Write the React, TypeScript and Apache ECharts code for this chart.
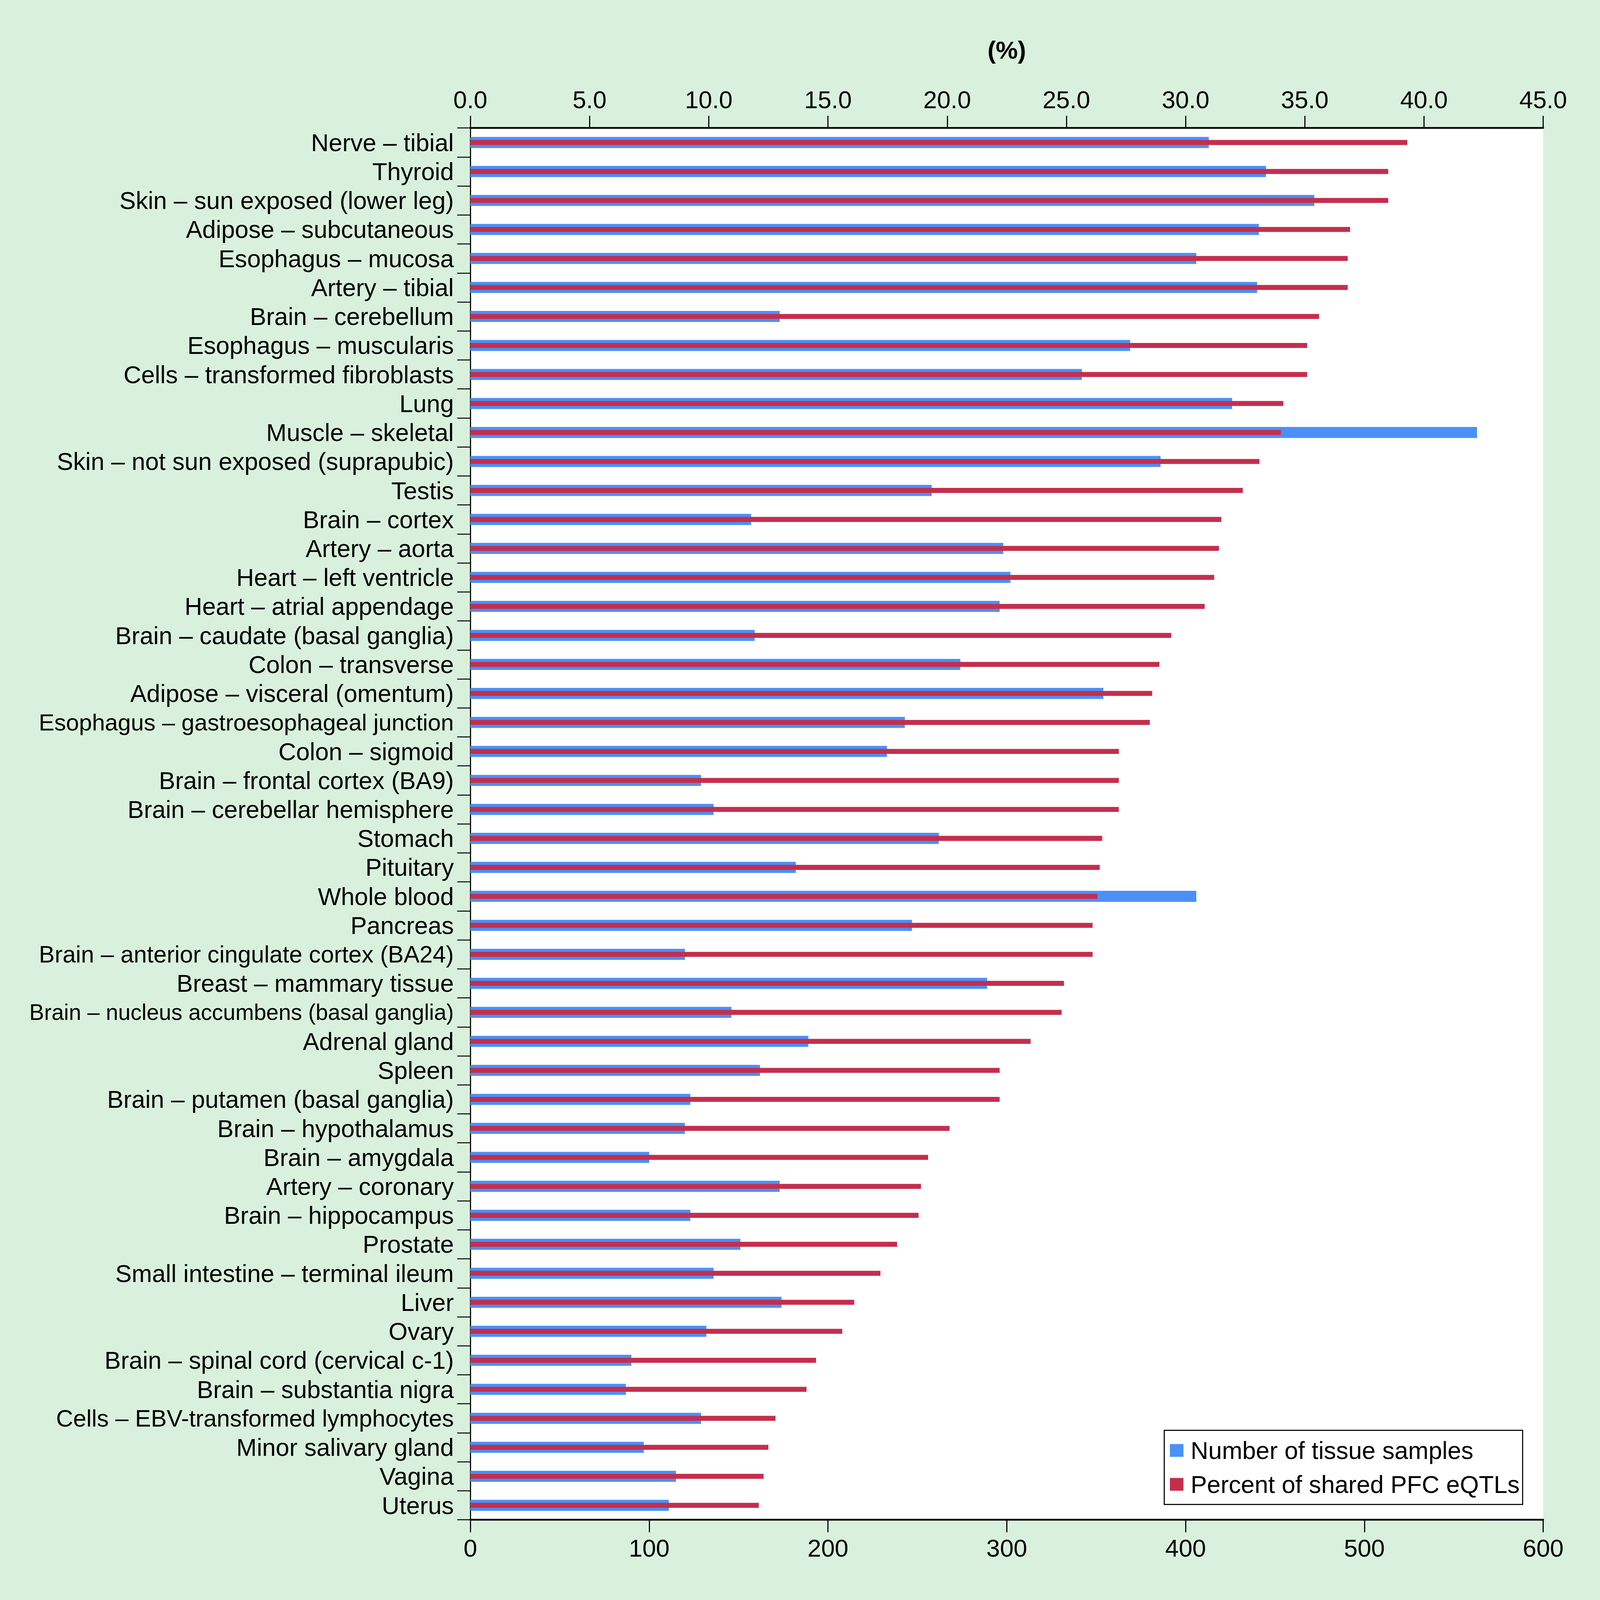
import React, { useEffect, useRef } from "react";
import * as echarts from "echarts";

const categories = [
  "Nerve – tibial",
  "Thyroid",
  "Skin – sun exposed (lower leg)",
  "Adipose – subcutaneous",
  "Esophagus – mucosa",
  "Artery – tibial",
  "Brain – cerebellum",
  "Esophagus – muscularis",
  "Cells – transformed fibroblasts",
  "Lung",
  "Muscle – skeletal",
  "Skin – not sun exposed (suprapubic)",
  "Testis",
  "Brain – cortex",
  "Artery – aorta",
  "Heart – left ventricle",
  "Heart – atrial appendage",
  "Brain – caudate (basal ganglia)",
  "Colon – transverse",
  "Adipose – visceral (omentum)",
  "Esophagus – gastroesophageal junction",
  "Colon – sigmoid",
  "Brain – frontal cortex (BA9)",
  "Brain – cerebellar hemisphere",
  "Stomach",
  "Pituitary",
  "Whole blood",
  "Pancreas",
  "Brain – anterior cingulate cortex (BA24)",
  "Breast – mammary tissue",
  "Brain – nucleus accumbens (basal ganglia)",
  "Adrenal gland",
  "Spleen",
  "Brain – putamen (basal ganglia)",
  "Brain – hypothalamus",
  "Brain – amygdala",
  "Artery – coronary",
  "Brain – hippocampus",
  "Prostate",
  "Small intestine – terminal ileum",
  "Liver",
  "Ovary",
  "Brain – spinal cord (cervical c-1)",
  "Brain – substantia nigra",
  "Cells – EBV-transformed lymphocytes",
  "Minor salivary gland",
  "Vagina",
  "Uterus",
];

// Number of tissue samples (bottom axis)
const sampleCounts = [
  413, 445, 472, 441, 406, 440, 173, 369, 342, 426, 563, 386,
  258, 157, 298, 302, 296, 159, 274, 354, 243, 233, 129, 136,
  262, 182, 406, 247, 120, 289, 146, 189, 162, 123, 120, 100,
  173, 123, 151, 136, 174, 132, 90, 87, 129, 97, 115, 111,
];

// Percent of shared PFC eQTLs (top axis)
const sharedPercent = [
  39.3, 38.5, 38.5, 36.9, 36.8, 36.8, 35.6, 35.1, 35.1, 34.1, 34.0, 33.1,
  32.4, 31.5, 31.4, 31.2, 30.8, 29.4, 28.9, 28.6, 28.5, 27.2, 27.2, 27.2,
  26.5, 26.4, 26.3, 26.1, 26.1, 24.9, 24.8, 23.5, 22.2, 22.2, 20.1, 19.2,
  18.9, 18.8, 17.9, 17.2, 16.1, 15.6, 14.5, 14.1, 12.8, 12.5, 12.3, 12.1,
];

const seriesNames = ["Number of tissue samples", "Percent of shared PFC eQTLs"];
const percentAxisLabel = "(%)";

const smallerLabels: Record<string, number> = {
  "Esophagus – gastroesophageal junction": 62,
  "Brain – anterior cingulate cortex (BA24)": 63,
  "Brain – nucleus accumbens (basal ganglia)": 59,
  "Cells – EBV-transformed lymphocytes": 63,
};

const FONT = '"Liberation Sans", Arial, Helvetica, sans-serif';
const BLUE = "#4a90f7";
const RED = "#c42e4e";
const BG = "#d9f1dc";

const REF_W = 4252;
const REF_H = 4488;

export default function App() {
  const ref = useRef<HTMLDivElement>(null);

  useEffect(() => {
    const el = ref.current!;
    const w = el.clientWidth || REF_W;
    const h = el.clientHeight || REF_H;
    const sx = w / REF_W;
    const sy = h / REF_H;
    const fs = sx;

    const chart = echarts.init(el, null, { renderer: "svg", width: w, height: h });

    const catData = categories.map((c) =>
      smallerLabels[c] ? { value: c, textStyle: { fontSize: smallerLabels[c] * fs } } : c
    );

    chart.setOption({
      animation: false,
      backgroundColor: BG,
      textStyle: { fontFamily: FONT },
      grid: {
        left: 1250 * sx,
        right: 151 * sx,
        top: 359 * sy,
        bottom: 225 * sy,
        show: true,
        backgroundColor: "#ffffff",
        borderWidth: 0,
      },
      legend: {
        orient: "vertical",
        left: 3094 * sx,
        top: 4012 * sy,
        itemWidth: 36 * sx,
        itemHeight: 36 * sy,
        itemGap: 26 * sy,
        padding: [22 * sy, 8 * sx, 22 * sy, 15 * sx],
        borderColor: "#000",
        borderWidth: 3 * sy,
        backgroundColor: "#fff",
        textStyle: {
          fontSize: 65 * fs,
          color: "#000",
          fontFamily: FONT,
          padding: [0, 0, 0, 14 * sx],
        },
        data: seriesNames.map((n) => ({ name: n, icon: "rect" })),
      },
      xAxis: [
        {
          type: "value",
          position: "top",
          min: 0,
          max: 45,
          interval: 5,
          name: percentAxisLabel,
          nameLocation: "middle",
          nameGap: 184 * sy,
          nameTextStyle: {
            fontSize: 66 * fs,
            fontWeight: "bold",
            color: "#000",
            fontFamily: FONT,
          },
          axisLine: { show: true, lineStyle: { color: "#000", width: 5 * sy } },
          axisTick: { show: true, length: 34 * sy, lineStyle: { color: "#000", width: 3 * sx } },
          axisLabel: {
            fontSize: 65 * fs,
            color: "#000",
            fontFamily: FONT,
            margin: 45 * sy,
            formatter: (v: number) => v.toFixed(1),
          },
          splitLine: { show: false },
        },
        {
          type: "value",
          position: "bottom",
          min: 0,
          max: 600,
          interval: 100,
          axisLine: { show: true, lineStyle: { color: "#000", width: 5 * sy } },
          axisTick: { show: true, length: 35 * sy, lineStyle: { color: "#000", width: 3 * sx } },
          axisLabel: {
            fontSize: 65 * fs,
            color: "#000",
            fontFamily: FONT,
            margin: 45 * sy,
          },
          splitLine: { show: false },
        },
      ],
      yAxis: [
        {
          type: "category",
          inverse: true,
          data: catData,
          axisLine: { show: true, lineStyle: { color: "#000", width: 3 * sx } },
          axisTick: { show: true, length: 35 * sx, lineStyle: { color: "#000", width: 3 * sy } },
          axisLabel: {
            fontSize: 65 * fs,
            color: "#000",
            fontFamily: FONT,
            margin: 44 * sx,
            interval: 0,
          },
          splitLine: { show: false },
        },
        {
          type: "category",
          inverse: true,
          show: false,
          data: categories,
        },
      ],
      series: [
        {
          name: seriesNames[0],
          type: "bar",
          xAxisIndex: 1,
          yAxisIndex: 0,
          barWidth: 31 * sy,
          itemStyle: { color: BLUE },
          z: 2,
          data: sampleCounts,
        },
        {
          name: seriesNames[1],
          type: "bar",
          xAxisIndex: 0,
          yAxisIndex: 1,
          barWidth: 14 * sy,
          itemStyle: { color: RED },
          z: 3,
          data: sharedPercent,
        },
      ],
    });

    return () => chart.dispose();
  }, []);

  return (
    <div
      ref={ref}
      style={{ position: "fixed", left: 0, top: 0, width: "100vw", height: "100vh" }}
    />
  );
}
